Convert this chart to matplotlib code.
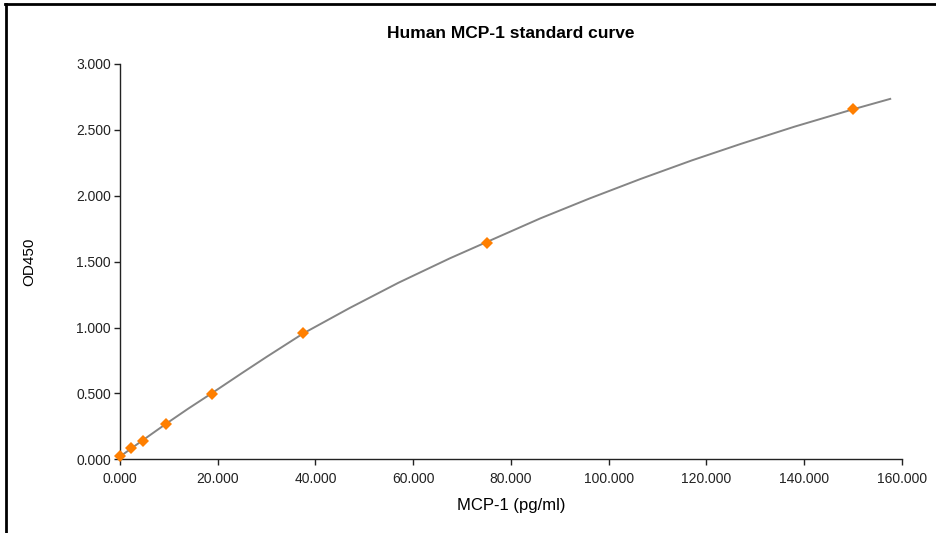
import numpy as np
import matplotlib.pyplot as plt
from matplotlib.lines import Line2D

plt.rcParams['font.family'] = ['Liberation Sans', 'DejaVu Sans']

# Стандарти (концентрація, OD450)
conc = [0, 2.34, 4.69, 9.38, 18.75, 37.5, 75, 150]
od = [0.025, 0.086, 0.142, 0.268, 0.497, 0.960, 1.639, 2.655]

# Точки апроксимуючої кривої
curve_x = [0, 2.34, 4.69, 9.38, 14, 18.75, 25, 30, 37.5, 47, 57, 67.5,
           75, 86, 96, 106.5, 117, 127, 138, 150, 157.6]
curve_y = [0.02, 0.083, 0.145, 0.268, 0.385, 0.500, 0.655, 0.777, 0.955,
           1.148, 1.340, 1.525, 1.648, 1.828, 1.978, 2.127, 2.268, 2.393,
           2.524, 2.656, 2.735]

xticks = [0, 20, 40, 60, 80, 100, 120, 140, 160]
yticks = [0, 0.5, 1.0, 1.5, 2.0, 2.5, 3.0]

fig = plt.figure(figsize=(9.37, 5.33), dpi=100)
ax = fig.add_axes([0.128, 0.1383, 0.8346, 0.7417])

ax.plot(curve_x, curve_y, color='#858585', linewidth=1.4, zorder=2)
ax.plot(conc, od, linestyle='none', marker='D', markersize=6,
        color='#ff7f00', markeredgewidth=0, zorder=3, clip_on=False)

ax.set_xlim(0, 160)
ax.set_ylim(0, 3.0)
ax.set_xticks(xticks)
ax.set_yticks(yticks)
ax.set_xticklabels(['%.3f' % v for v in xticks])
ax.set_yticklabels(['%.3f' % v for v in yticks])
ax.tick_params(direction='out', length=4, width=1, labelsize=10,
               colors='#222222', pad=2.5)
ax.tick_params(axis='x', pad=5.5)

for s in ['top', 'right']:
    ax.spines[s].set_visible(False)
for s in ['left', 'bottom']:
    ax.spines[s].set_color('#222222')
    ax.spines[s].set_linewidth(1)

ax.set_xlabel('MCP-1 (pg/ml)', fontsize=12, labelpad=8)
ax.set_ylabel('OD450', fontsize=11, labelpad=29)
ax.set_title('Human MCP-1 standard curve', fontsize=12.5, fontweight='bold',
             pad=19)

# Рамка зліва і зверху
fig.add_artist(Line2D([0.006, 0.006], [0, 0.992], transform=fig.transFigure,
                      color='black', linewidth=2))
fig.add_artist(Line2D([0.005, 1.0], [0.992, 0.992], transform=fig.transFigure,
                      color='black', linewidth=2))

fig.savefig('out.png', dpi=100)
